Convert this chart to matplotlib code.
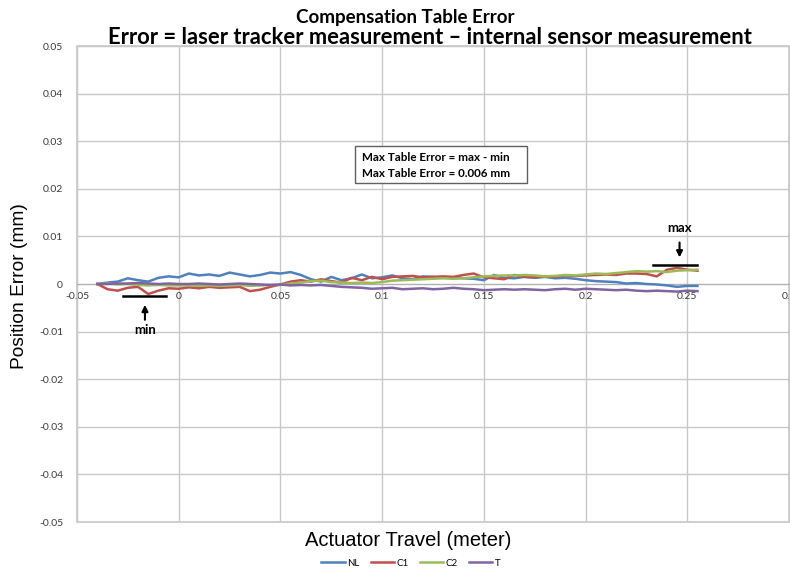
import matplotlib
matplotlib.use("Agg")
import matplotlib.pyplot as plt
from matplotlib.patches import Rectangle
from matplotlib.ticker import FuncFormatter, MultipleLocator

# actuator travel (m)
travel = [
    -0.040, -0.035, -0.030, -0.025, -0.020, -0.015, -0.010, -0.005, 0.000, 0.005,
    0.010, 0.015, 0.020, 0.025, 0.030, 0.035, 0.040, 0.045, 0.050, 0.055,
    0.060, 0.065, 0.070, 0.075, 0.080, 0.085, 0.090, 0.095, 0.100, 0.105,
    0.110, 0.115, 0.120, 0.125, 0.130, 0.135, 0.140, 0.145, 0.150, 0.155,
    0.160, 0.165, 0.170, 0.175, 0.180, 0.185, 0.190, 0.195, 0.200, 0.205,
    0.210, 0.215, 0.220, 0.225, 0.230, 0.235, 0.240, 0.245, 0.250, 0.255,
]

# position error (mm) per table
err_nl = [
    0.0000, 0.0003, 0.0005, 0.0012, 0.0008, 0.0005, 0.0013, 0.0016, 0.0014, 0.0022,
    0.0018, 0.0020, 0.0017, 0.0024, 0.0020, 0.0016, 0.0019, 0.0024, 0.0022, 0.0025,
    0.0019, 0.0010, 0.0005, 0.0015, 0.0008, 0.0012, 0.0020, 0.0012, 0.0014, 0.0018,
    0.0012, 0.0010, 0.0016, 0.0015, 0.0013, 0.0014, 0.0012, 0.0011, 0.0008, 0.0019,
    0.0013, 0.0012, 0.0015, 0.0013, 0.0015, 0.0012, 0.0013, 0.0011, 0.0008, 0.0006,
    0.0005, 0.0004, 0.0001, 0.0002, 0.0000, -0.0001, -0.0003, -0.0006, -0.0004, -0.0004,
]
err_c1 = [
    0.0000, -0.0011, -0.0014, -0.0008, -0.0006, -0.0021, -0.0014, -0.0009, -0.0010, -0.0007,
    -0.0009, -0.0006, -0.0008, -0.0007, -0.0006, -0.0015, -0.0012, -0.0006, -0.0001, 0.0005,
    0.0008, 0.0005, 0.0010, 0.0006, 0.0003, 0.0013, 0.0008, 0.0015, 0.0010, 0.0015,
    0.0016, 0.0017, 0.0014, 0.0015, 0.0016, 0.0015, 0.0019, 0.0022, 0.0014, 0.0012,
    0.0010, 0.0019, 0.0015, 0.0014, 0.0016, 0.0015, 0.0018, 0.0017, 0.0018, 0.0019,
    0.0020, 0.0019, 0.0022, 0.0022, 0.0021, 0.0016, 0.0030, 0.0034, 0.0030, 0.0028,
]
err_c2 = [
    0.0000, 0.0001, -0.0001, 0.0000, -0.0002, -0.0003, -0.0002, -0.0003, -0.0003, -0.0003,
    -0.0004, -0.0003, -0.0004, -0.0003, -0.0002, -0.0004, -0.0003, -0.0002, -0.0002, 0.0001,
    0.0003, 0.0006, 0.0007, 0.0004, 0.0003, 0.0002, 0.0003, 0.0002, 0.0004, 0.0007,
    0.0008, 0.0009, 0.0010, 0.0011, 0.0012, 0.0011, 0.0012, 0.0014, 0.0016, 0.0017,
    0.0018, 0.0018, 0.0019, 0.0018, 0.0016, 0.0017, 0.0019, 0.0018, 0.0020, 0.0022,
    0.0021, 0.0023, 0.0025, 0.0027, 0.0026, 0.0027, 0.0025, 0.0028, 0.0029, 0.0030,
]
err_t = [
    0.0000, 0.0000, 0.0001, 0.0001, 0.0002, 0.0001, 0.0000, 0.0001, 0.0000, 0.0000,
    0.0001, 0.0000, -0.0001, 0.0000, 0.0001, 0.0000, -0.0001, -0.0002, -0.0001, -0.0003,
    -0.0002, -0.0003, -0.0002, -0.0004, -0.0006, -0.0007, -0.0008, -0.0010, -0.0009, -0.0008,
    -0.0011, -0.0010, -0.0009, -0.0011, -0.0010, -0.0008, -0.0010, -0.0011, -0.0013, -0.0012,
    -0.0011, -0.0012, -0.0011, -0.0012, -0.0013, -0.0011, -0.0010, -0.0012, -0.0010, -0.0011,
    -0.0012, -0.0013, -0.0012, -0.0014, -0.0015, -0.0014, -0.0015, -0.0016, -0.0014, -0.0015,
]

series_names = ["NL", "C1", "C2", "T"]
series_colors = ["#4F81BD", "#C0504D", "#9BBB59", "#8064A2"]

# min / max markers
max_bar = (0.2333, 0.2549, 0.0040)
min_bar = (-0.0274, -0.0062, -0.0025)

fig = plt.figure(figsize=(7.9, 5.68), dpi=100)
ax = fig.add_axes([77 / 790, 46 / 568, 712 / 790, 476 / 568])

for ys, name, col in zip([err_nl, err_c1, err_c2, err_t], series_names, series_colors):
    ax.plot(travel, ys, color=col, lw=1.8, label=name, zorder=3)

ax.set_xlim(-0.05, 0.3)
ax.set_ylim(-0.05, 0.05)
ax.xaxis.set_major_locator(MultipleLocator(0.05))
ax.yaxis.set_major_locator(MultipleLocator(0.01))
fmt = FuncFormatter(lambda v, p: "0" if abs(v) < 1e-9 else f"{v:g}")
ax.xaxis.set_major_formatter(fmt)
ax.yaxis.set_major_formatter(fmt)

ax.grid(True, color="#c8c8c8", lw=1)
ax.set_axisbelow(True)
for s in ["top", "left", "right"]:
    ax.spines[s].set_color("#c8c8c8")
ax.spines["bottom"].set_position(("data", 0))
ax.spines["bottom"].set_color("#b0b0b0")
ax.patch.set_edgecolor("#c8c8c8")
ax.patch.set_linewidth(1.2)
ax.tick_params(length=0, labelsize=7.5, colors="#3a3a3a")
ax.tick_params(axis="y", pad=10)
ax.tick_params(axis="x", pad=6)
for lab in ax.get_xticklabels() + ax.get_yticklabels():
    lab.set_fontfamily("Lato")
for lab in ax.get_xticklabels():
    lab.set_clip_on(False)

# text box
ax.add_patch(Rectangle((0.0867, 0.0212), 0.0845, 0.0078, facecolor="white",
                       edgecolor="#606060", lw=1, zorder=4))
ax.text(0.0900, 0.0266, "Max Table Error = max - min", fontsize=8.4, fontweight="bold",
        family="Lato", va="center", zorder=5)
ax.text(0.0900, 0.0232, "Max Table Error = 0.006 mm", fontsize=8.4, fontweight="bold",
        family="Lato", va="center", zorder=5)

# max / min annotations
ax.plot([max_bar[0], max_bar[1]], [max_bar[2], max_bar[2]], color="black", lw=1.8, zorder=4)
ax.annotate("", xy=(0.2462, 0.0050), xytext=(0.2462, 0.0093),
            arrowprops=dict(arrowstyle="-|>", color="black", lw=1.5, mutation_scale=9))
ax.text(0.2462, 0.0118, "max", ha="center", va="center", fontsize=9.5,
        fontweight="bold", family="Lato")
ax.plot([min_bar[0], min_bar[1]], [min_bar[2], min_bar[2]], color="black", lw=1.8, zorder=4)
ax.annotate("", xy=(-0.0166, -0.0038), xytext=(-0.0166, -0.0081),
            arrowprops=dict(arrowstyle="-|>", color="black", lw=1.5, mutation_scale=9))
ax.text(-0.0166, -0.0097, "min", ha="center", va="center", fontsize=9.5,
        fontweight="bold", family="Lato")

fig.text(405 / 790, 1 - 17 / 568, "Compensation Table Error", ha="center", va="center",
         fontsize=13.5, fontweight="bold", family="Lato")
fig.text(430 / 790, 1 - 37 / 568,
         "Error = laser tracker measurement \u2013 internal sensor measurement",
         ha="center", va="center", fontsize=15.8, fontweight="bold", family="Lato")

fig.text(20 / 790, 1 - 286 / 568, "Position Error (mm)", rotation=90, ha="center",
         va="center", fontsize=13.8, family="Liberation Sans")
fig.text(408 / 790, 1 - 541 / 568, "Actuator Travel (meter)", ha="center", va="center",
         fontsize=14.5, family="Liberation Sans")

leg = fig.legend(loc="center", bbox_to_anchor=(411 / 790, 1 - 563 / 568), ncol=4,
                 frameon=False, handlelength=2.4, handletextpad=0.3,
                 columnspacing=1.1, prop={"family": "Lato", "size": 7})

fig.savefig("out.png", dpi=100)
